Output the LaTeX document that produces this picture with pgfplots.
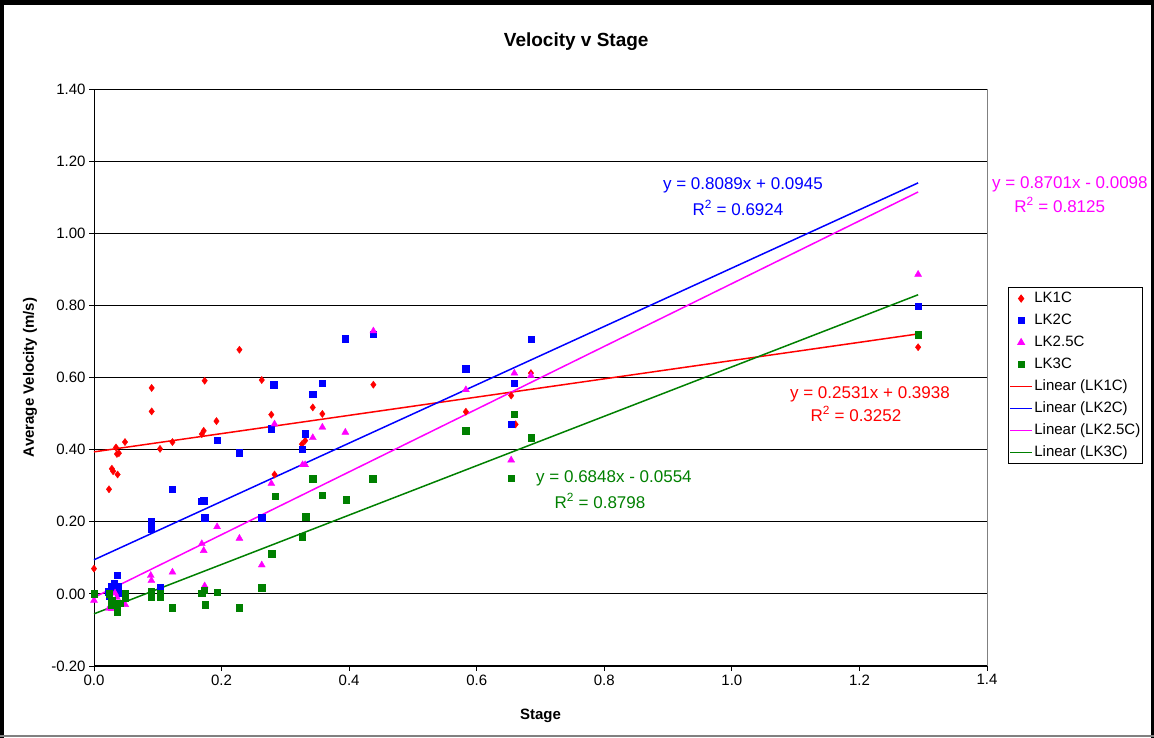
\documentclass[border=0pt]{standalone}
\usepackage{fontspec}
\setmainfont{Liberation Sans}
\usepackage{pgfplots}
\pgfplotsset{compat=1.18}
\definecolor{xred}{RGB}{255,0,0}
\definecolor{xblue}{RGB}{0,0,255}
\definecolor{xmag}{RGB}{255,0,255}
\definecolor{xgreen}{RGB}{0,128,0}
\begin{document}
\begin{tikzpicture}
\useasboundingbox (0pt,0pt) rectangle (1154pt,738pt);
\fill[white] (0pt,0pt) rectangle (1154pt,738pt);
\draw[black,line width=5pt] (0pt,735.5pt) -- (1154pt,735.5pt);
\draw[black,line width=4pt] (2pt,0pt) -- (2pt,738pt);
\draw[black,line width=3pt] (1152.5pt,0pt) -- (1152.5pt,738pt);
\draw[gray,line width=2pt] (0pt,2pt) -- (1154pt,2pt);
\begin{axis}[
  at={(94pt,72pt)}, anchor=south west,
  width=893pt, height=577pt, scale only axis,
  xmin=0, xmax=1.4, ymin=-0.2, ymax=1.4,
  xtick={0,0.2,0.4,0.6,0.8,1.0,1.2,1.4},
  ytick={-0.2,0,0.2,0.4,0.6,0.8,1.0,1.2,1.4},
  xticklabels={0.0,0.2,0.4,0.6,0.8,1.0,1.2,1.4},
  yticklabels={-0.20,0.00,0.20,0.40,0.60,0.80,1.00,1.20,1.40},
  axis x line*=bottom, axis y line*=left,
  axis line style={black, line width=1pt},
  tick align=outside, major tick length=5pt,
  tick style={black, line width=0.8pt},
  ymajorgrids, grid style={black, line width=0.8pt},
  tick label style={font=\fontsize{15}{17}\selectfont},
  clip=false,
  title={\textbf{Velocity v Stage}},
  title style={font=\fontsize{19}{22}\selectfont, at={(0.54,1.071)}, anchor=center},
  xlabel={\textbf{Stage}},
  xlabel style={font=\fontsize{15}{17}\selectfont, at={(0.5,-0.0867)}, anchor=center},
  ylabel={\textbf{Average Velocity (m/s)}},
  ylabel style={font=\fontsize{15}{17}\selectfont, at={(-0.0717,0.5)}, anchor=center, rotate=0},
  legend style={at={(1.0235,0.657)}, anchor=north west, draw=black, line width=0.8pt,
    font=\fontsize{15}{17}\selectfont, row sep=5.5pt, inner xsep=1pt, inner ysep=3pt,
    nodes={inner xsep=1.5pt, inner ysep=1pt, text height=11pt, text depth=3.5pt}},
  legend cell align=left,
  legend image code/.code={\draw[mark repeat=2,mark phase=2,#1] plot coordinates {(0pt,0pt) (11pt,0pt) (22pt,0pt)};},
]
\draw[gray, line width=0.8pt] (rel axis cs:1,0) -- (rel axis cs:1,1);
\addplot[only marks, mark=diamond*, mark size=3.6pt, color=xred] table {
x y
0 0.07
0.0235 0.29
0.028 0.347
0.030 0.340
0.037 0.331
0.036 0.388
0.039 0.390
0.0345 0.406
0.0486 0.421
0.0904 0.571
0.0904 0.506
0.1035 0.402
0.123 0.421
0.169 0.443
0.172 0.452
0.1735 0.591
0.192 0.479
0.228 0.677
0.263 0.593
0.278 0.497
0.283 0.331
0.326 0.415
0.331 0.425
0.343 0.517
0.358 0.499
0.438 0.580
0.583 0.505
0.654 0.550
0.661 0.470
0.685 0.612
1.292 0.684
};
\addlegendentry{LK1C}
\addplot[only marks, mark=square*, mark size=3.2pt, color=xblue] table {
x y
0.022 0.006
0.024 -0.007
0.027 0.020
0.028 0.014
0.032 0.030
0.0365 0.051
0.037 0.020
0.039 0.002
0.049 -0.007
0.0898 0.200
0.0898 0.181
0.1035 0.018
0.123 0.291
0.169 0.257
0.172 0.258
0.1735 0.211
0.193 0.426
0.228 0.391
0.263 0.211
0.278 0.458
0.282 0.580
0.326 0.401
0.331 0.444
0.343 0.553
0.358 0.584
0.394 0.708
0.438 0.720
0.583 0.624
0.654 0.471
0.659 0.584
0.685 0.706
1.292 0.797
};
\addlegendentry{LK2C}
\addplot[only marks, mark=triangle*, mark size=4pt, color=xmag] table {
x y
0 -0.018
0.0235 -0.040
0.028 -0.041
0.033 0.002
0.036 -0.010
0.049 -0.030
0.089 0.051
0.090 0.037
0.123 0.060
0.169 0.139
0.172 0.120
0.1735 0.022
0.193 0.186
0.228 0.154
0.263 0.080
0.278 0.306
0.283 0.471
0.327 0.358
0.331 0.358
0.343 0.433
0.358 0.462
0.394 0.448
0.438 0.729
0.583 0.566
0.654 0.371
0.659 0.612
0.685 0.605
1.292 0.886
};
\addlegendentry{LK2.5C}
\addplot[only marks, mark=square*, mark size=3.2pt, color=xgreen] table {
x y
0 0.0
0.0235 0.0
0.028 -0.018
0.028 -0.030
0.036 -0.028
0.036 -0.049
0.040 -0.026
0.049 0.002
0.049 -0.012
0.090 0.007
0.090 -0.009
0.1035 0.002
0.1035 -0.008
0.123 -0.038
0.169 0.002
0.1725 0.011
0.174 -0.030
0.193 0.004
0.228 -0.038
0.263 0.017
0.2785 0.111
0.284 0.270
0.326 0.159
0.332 0.214
0.343 0.319
0.358 0.273
0.395 0.261
0.437 0.319
0.583 0.452
0.654 0.321
0.659 0.499
0.685 0.433
1.292 0.719
};
\addlegendentry{LK3C}
\addplot[xred, line width=1.5pt] coordinates {(0,0.3938) (1.292,0.7208)};
\addlegendentry{Linear (LK1C)}
\addplot[xblue, line width=1.5pt] coordinates {(0,0.0945) (1.292,1.1396)};
\addlegendentry{Linear (LK2C)}
\addplot[xmag, line width=1.5pt] coordinates {(0,-0.0098) (1.292,1.1144)};
\addlegendentry{Linear (LK2.5C)}
\addplot[xgreen, line width=1.5pt] coordinates {(0,-0.0554) (1.292,0.8294)};
\addlegendentry{Linear (LK3C)}
\node[xblue, font=\fontsize{17}{19}\selectfont] at (axis cs:1.0174,1.1315) {y = 0.8089x + 0.0945};
\node[xblue, font=\fontsize{17}{19}\selectfont] at (axis cs:1.0096,1.0704) {R\textsuperscript{2} = 0.6924};
\node[xmag, font=\fontsize{17}{19}\selectfont] at (axis cs:1.530,1.137) {y = 0.8701x - 0.0098};
\node[xmag, font=\fontsize{17}{19}\selectfont] at (axis cs:1.514,1.0787) {R\textsuperscript{2} = 0.8125};
\node[xred, font=\fontsize{17}{19}\selectfont] at (axis cs:1.2165,0.5546) {y = 0.2531x + 0.3938};
\node[xred, font=\fontsize{17}{19}\selectfont] at (axis cs:1.1945,0.499) {R\textsuperscript{2} = 0.3252};
\node[xgreen, font=\fontsize{17}{19}\selectfont] at (axis cs:0.8152,0.3217) {y = 0.6848x - 0.0554};
\node[xgreen, font=\fontsize{17}{19}\selectfont] at (axis cs:0.7932,0.2579) {R\textsuperscript{2} = 0.8798};
\end{axis}
\end{tikzpicture}
\end{document}
